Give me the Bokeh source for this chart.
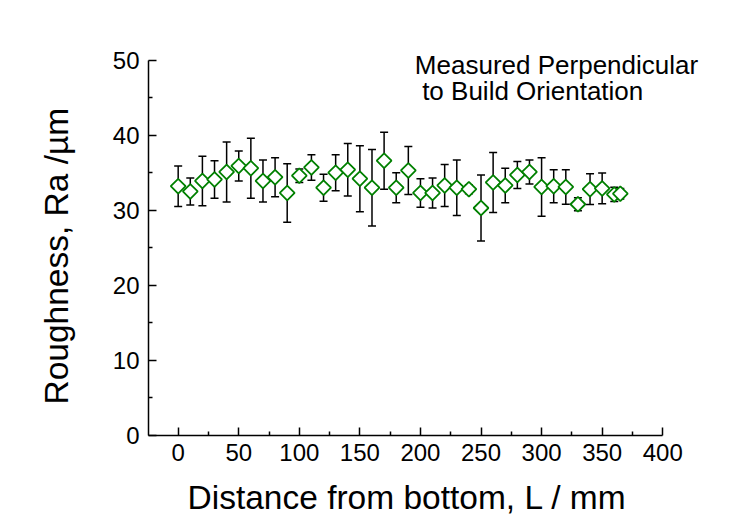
import numpy as np
from bokeh.plotting import figure
from bokeh.models import ColumnDataSource, Whisker, TeeHead, Label, Range1d, FixedTicker, Title
from bokeh.embed import file_html
from bokeh.resources import INLINE

# Distance from bottom, L (mm)
distance = [0, 10, 20, 30, 40, 50, 60, 70, 80, 90,
            100, 110, 120, 130, 140, 150, 160, 170, 180, 190,
            200, 210, 220, 230, 240, 250, 260, 270, 280, 290,
            300, 310, 320, 330, 340, 350, 360, 365]
# Roughness Ra (um)
roughness = [33.2, 32.5, 33.9, 34.1, 35.1, 35.9, 35.6, 33.9, 34.4, 32.3,
             34.6, 35.7, 33.0, 35.0, 35.4, 34.2, 33.0, 36.6, 33.0, 35.3,
             32.3, 32.3, 33.3, 33.0, 32.8, 30.3, 33.7, 33.3, 34.7, 35.1,
             33.1, 33.2, 33.1, 30.8, 32.8, 32.9, 32.1, 32.2]
# Error (+/-)
error = [2.7, 1.8, 3.3, 2.5, 4.0, 2.0, 4.0, 2.8, 2.6, 3.9,
         0.9, 1.7, 1.8, 2.4, 3.5, 4.4, 5.1, 3.8, 2.0, 3.2,
         1.9, 2.0, 2.8, 3.7, 0.6, 4.4, 4.0, 2.3, 1.8, 1.6,
         3.9, 2.2, 2.3, 0.85, 2.05, 2.05, 0.95, 0.7]

x_ticks = [0, 50, 100, 150, 200, 250, 300, 350, 400]
y_ticks = [0, 10, 20, 30, 40, 50]

upper = [r + e for r, e in zip(roughness, error)]
lower = [r - e for r, e in zip(roughness, error)]
src = ColumnDataSource(dict(x=distance, y=roughness, upper=upper, lower=lower))

FONT = "Liberation Sans"

p = figure(width=750, height=529, output_backend="svg", toolbar_location=None,
           x_range=Range1d(-24.5, 444.4), y_range=Range1d(0, 53.94),
           min_border_left=146, min_border_right=34, min_border_top=30, min_border_bottom=88)
p.outline_line_color = None
p.grid.visible = False
p.background_fill_color = "white"
p.border_fill_color = "white"

for ax in (p.xaxis[0], p.yaxis[0]):
    ax.axis_line_width = 1.5
    ax.axis_line_color = "black"
    ax.major_tick_line_width = 1.5
    ax.minor_tick_line_width = 1.5
    ax.major_tick_line_color = "black"
    ax.minor_tick_line_color = "black"
    ax.major_tick_in = 8
    ax.major_tick_out = 0
    ax.minor_tick_in = 4
    ax.minor_tick_out = 0
    ax.major_label_text_font = FONT
    ax.major_label_text_font_size = "24px"
    ax.major_label_text_color = "black"

p.xaxis.bounds = (-24.5, 400)
p.yaxis.bounds = (0, 50)
p.xaxis.ticker = FixedTicker(ticks=x_ticks, minor_ticks=[v + 25 for v in x_ticks[:-1]])
p.yaxis.ticker = FixedTicker(ticks=y_ticks, minor_ticks=[v + 5 for v in y_ticks[:-1]])
p.xaxis.major_label_standoff = 8
p.yaxis.major_label_standoff = 9

# axis titles (placed as titles so they can be positioned along the drawn axes)
p.add_layout(Title(text="Distance from bottom, L / mm", align="left", offset=39,
                   text_font=FONT, text_font_size="33.5px", text_font_style="normal",
                   text_color="black", standoff=27, text_line_height=0.7), "below")
p.add_layout(Title(text="Roughness, Ra /µm", align="left", offset=31,
                   text_font=FONT, text_font_size="33.5px", text_font_style="normal",
                   text_color="black", standoff=70), "left")

wh = Whisker(source=src, base="x", upper="upper", lower="lower",
             line_color="black", line_width=1.5,
             upper_head=TeeHead(size=8, line_color="black", line_width=1.5),
             lower_head=TeeHead(size=8, line_color="black", line_width=1.5))
p.add_layout(wh)

p.scatter("x", "y", source=src, marker="square", angle=np.pi / 4, size=10.5,
          fill_color="white", line_color="#008000", line_width=1.8)

p.add_layout(Label(x=195.4, y=49.3, text="Measured Perpendicular", text_font=FONT,
                   text_font_size="26px", text_color="black", text_baseline="alphabetic"))
p.add_layout(Label(x=201.4, y=45.9, text="to Build Orientation", text_font=FONT,
                   text_font_size="26px", text_color="black", text_baseline="alphabetic"))

open("out.html", "w").write(file_html(p, INLINE))
